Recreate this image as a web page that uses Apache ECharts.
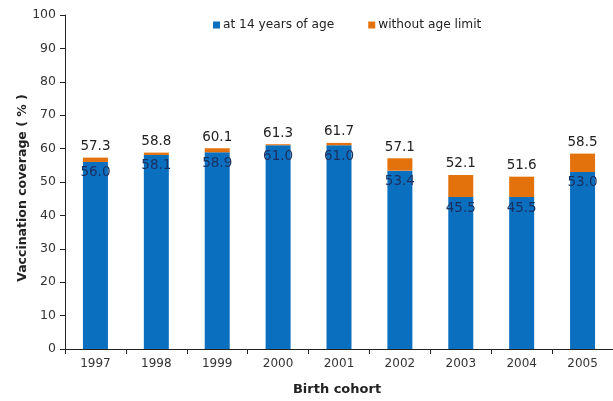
<!DOCTYPE html>
<html><head><meta charset="utf-8">
<script src="https://cdn.jsdelivr.net/npm/echarts@6/dist/echarts.min.js"></script>
<style>html,body{margin:0;padding:0;background:#fff}#c{width:613px;height:401px}</style>
</head><body><div id="c"></div>
<script>
var categories = ['1997','1998','1999','2000','2001','2002','2003','2004','2005'];
var at14 = [56.0, 58.1, 58.9, 61.0, 61.0, 53.4, 45.5, 45.5, 53.0];
var totals = [57.3, 58.8, 60.1, 61.3, 61.7, 57.1, 52.1, 51.6, 58.5];
var withoutLimit = totals.map(function(t,i){ return +(t - at14[i]).toFixed(1); });
var yTicks = [0,10,20,30,40,50,60,70,80,90,100];

var chart = echarts.init(document.getElementById('c'));
var font = 'DejaVu Sans, Verdana, sans-serif';
chart.setOption({
  animation:false,
  textStyle:{fontFamily:font},
  grid:{left:65, right:-10, top:15, bottom:52, containLabel:false},
  legend:{
    top:14, left:208, itemWidth:7, itemHeight:7, itemGap:34, icon:'rect',
    textStyle:{fontSize:12.2, color:'#222', fontFamily:font, padding:[0,0,0,-2]},
    data:['at 14 years of age','without age limit']
  },
  xAxis:{
    type:'category', data:categories,
    name:'Birth cohort', nameLocation:'middle', nameGap:34, nameMoveOverlap:false,
    nameTextStyle:{fontSize:13, fontWeight:'bold', color:'#222', fontFamily:font, padding:[0,0,0,-4]},
    axisLine:{lineStyle:{color:'#222', width:1}},
    axisTick:{show:true, length:5, lineStyle:{color:'#222'}},
    axisLabel:{fontSize:12, color:'#333', margin:9}
  },
  yAxis:{
    type:'value', min:0, max:100, interval:10,
    name:'Vaccination coverage ( % )', nameLocation:'middle', nameGap:36, nameMoveOverlap:false,
    nameTextStyle:{fontSize:12.5, fontWeight:'bold', color:'#222', fontFamily:font, padding:[0,0,0,-12]},
    axisLine:{show:true, lineStyle:{color:'#222', width:1}},
    axisTick:{show:true, length:5, lineStyle:{color:'#222'}},
    axisLabel:{fontSize:12.5, color:'#333', margin:9, formatter:function(v){return yTicks.indexOf(v)>=0? String(v):'';}},
    splitLine:{show:false}
  },
  series:[
    {name:'at 14 years of age', type:'bar', stack:'a', barWidth:25, data:at14,
     itemStyle:{color:'#0b6fc0'},
     label:{show:true, position:'insideTop', distance:4, fontSize:13.5, color:'#1b2f5e',
       formatter:function(p){return at14[p.dataIndex].toFixed(1);}}},
    {name:'without age limit', type:'bar', stack:'a', barWidth:25, data:withoutLimit,
     itemStyle:{color:'#e3720c'},
     label:{show:true, position:'top', distance:4, fontSize:13.5, color:'#222',
       formatter:function(p){return totals[p.dataIndex].toFixed(1);}}}
  ]
});
</script></body></html>
